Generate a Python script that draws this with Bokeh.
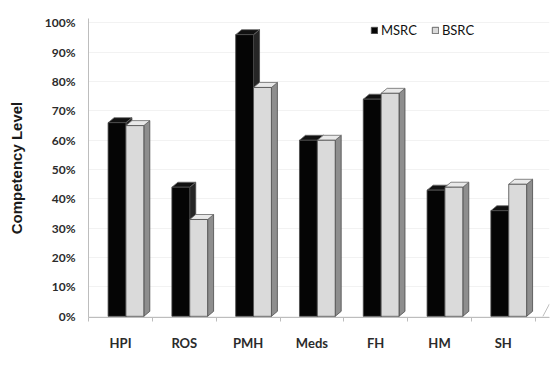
from bokeh.plotting import figure
from bokeh.models import Range1d, FixedTicker, Label, Legend, LegendItem
from bokeh.embed import file_html
from bokeh.resources import INLINE

# Competency by part of the patient interview (percent)
categories = ["HPI", "ROS", "PMH", "Meds", "FH", "HM", "SH"]
msrc = [66, 44, 96, 60, 74, 43, 36]
bsrc = [65, 33, 78, 60, 76, 44, 45]
series_names = ["MSRC", "BSRC"]
y_ticks = [0, 10, 20, 30, 40, 50, 60, 70, 80, 90, 100]

FONT = "Lato"
TEXT = "#2b2b2b"

# bar geometry in data units (category spacing = 1)
BAR_W = 0.28      # width of one bar
SHIFT = 0.085     # bar group offset from the category tick
DEPTH_X = 0.094   # extrusion to the right
DEPTH_Y = 1.7     # extrusion upward (percent units)

p = figure(width=552, height=371, output_backend="svg", toolbar_location=None,
           x_range=Range1d(-0.502, 6.724), y_range=Range1d(-0.4, 101.5),
           min_border_left=88, min_border_right=3, min_border_top=18,
           min_border_bottom=54)
p.outline_line_color = None
p.background_fill_color = "white"
p.border_fill_color = "white"
p.xgrid.grid_line_color = None
p.ygrid.grid_line_color = "#f2f2f2"
p.ygrid.ticker = FixedTicker(ticks=y_ticks)


def draw_series(values, offset, front, top, side):
    xs = list(range(len(values)))
    left = [i + SHIFT + offset for i in xs]
    right = [l + BAR_W for l in left]
    side_xs = [[r, r + DEPTH_X, r + DEPTH_X, r] for r in right]
    side_ys = [[0, DEPTH_Y, v + DEPTH_Y, v] for v in values]
    top_xs = [[l, l + DEPTH_X, r + DEPTH_X, r] for l, r in zip(left, right)]
    top_ys = [[v, v + DEPTH_Y, v + DEPTH_Y, v] for v in values]
    p.patches(side_xs, side_ys, fill_color=side, line_color="#4a4a4a", line_width=0.8)
    p.patches(top_xs, top_ys, fill_color=top, line_color="#6a6a6a", line_width=0.8)
    return p.quad(left=left, right=right, bottom=0, top=values,
                  fill_color=front, line_color="#4a4a4a", line_width=0.8)


r_ms = draw_series(msrc, -BAR_W, "#050505", "#111111", "#262626")
r_bs = draw_series(bsrc, 0.0, "#dadada", "#e9e9e9", "#8e8e8e")

# right end of the floor
p.segment(x0=[6.724 - DEPTH_X * 1.1], y0=[0], x1=[6.724], y1=[DEPTH_Y * 2.5],
          line_color="#bdbdbd", line_width=1)

# axes
xa = p.xaxis[0]
xa.ticker = FixedTicker(ticks=list(range(len(categories))),
                        minor_ticks=[i - 0.5 for i in range(len(categories) + 1)])
xa.major_label_overrides = {i: c for i, c in enumerate(categories)}
xa.major_tick_out = 0
xa.major_tick_in = 0
xa.minor_tick_out = 4
xa.minor_tick_in = 0
xa.minor_tick_line_color = "#bdbdbd"
xa.axis_line_color = "#bdbdbd"
xa.major_label_standoff = 13
xa.major_label_text_font = FONT
xa.major_label_text_font_style = "bold"
xa.major_label_text_font_size = "13px"
xa.major_label_text_color = TEXT

ya = p.yaxis[0]
ya.ticker = FixedTicker(ticks=y_ticks)
ya.major_label_overrides = {t: f"{t}%" for t in y_ticks}
ya.major_tick_out = 0
ya.major_tick_in = 0
ya.minor_tick_out = 0
ya.minor_tick_in = 0
ya.axis_line_color = "#bdbdbd"
ya.major_label_standoff = 13
ya.major_label_text_font = FONT
ya.major_label_text_font_style = "bold"
ya.major_label_text_font_size = "12px"
ya.major_label_text_color = TEXT
ya.axis_label = "Competency Level"
ya.axis_label_text_font = "Liberation Sans"
ya.axis_label_text_font_style = "bold"
ya.axis_label_text_font_size = "15px"
ya.axis_label_text_color = "#1a1a1a"
ya.axis_label_standoff = 17

p.add_layout(Label(x=2.45, y=-45, x_units="data", y_units="screen",
                   text="Part of the Patient Interview", text_align="center",
                   text_baseline="middle", text_font=FONT, text_font_style="bold",
                   text_font_size="14px", text_color=TEXT))

legend = Legend(items=[LegendItem(label=series_names[0], renderers=[r_ms]),
                       LegendItem(label=series_names[1], renderers=[r_bs])],
                orientation="horizontal", location=(282, 279),
                glyph_width=8, glyph_height=8, label_standoff=3, spacing=14,
                padding=0, margin=0, border_line_color=None,
                background_fill_alpha=0, label_text_font=FONT,
                label_text_font_size="13px", label_text_color="#111111")
p.add_layout(legend)

open("out.html", "w").write(file_html(p, INLINE))
